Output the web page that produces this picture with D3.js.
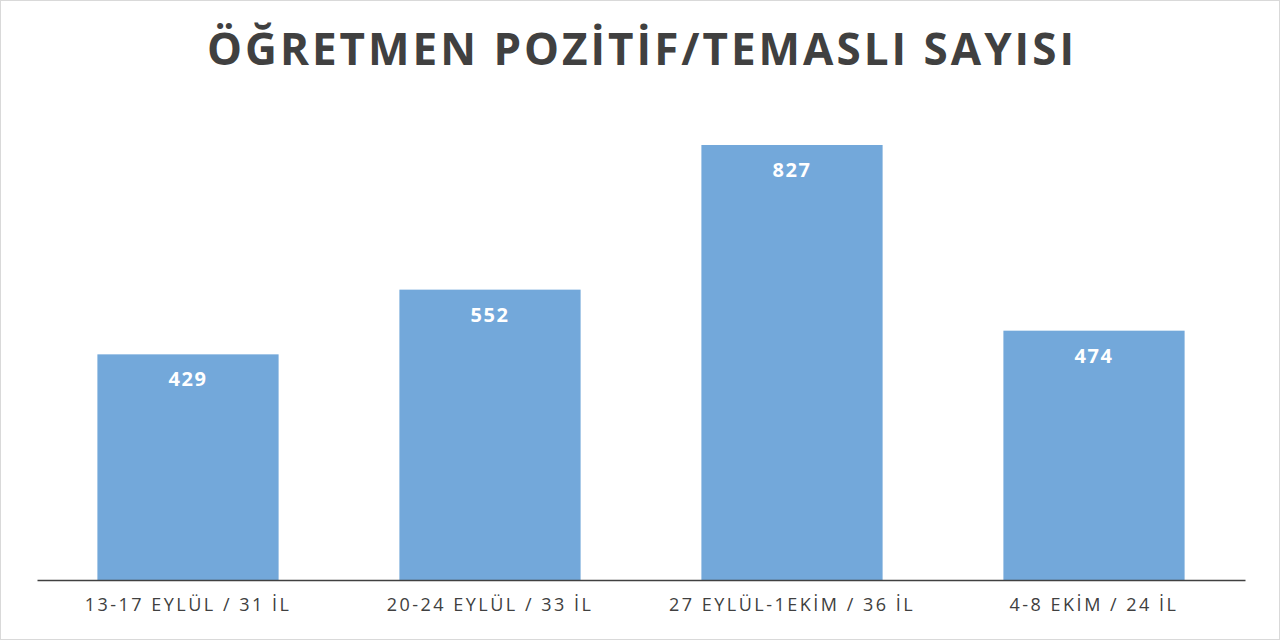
<!DOCTYPE html>
<html><head><meta charset="utf-8">
<script src="https://cdn.jsdelivr.net/npm/d3@7"></script>
<style>body{margin:0;background:#fff}</style></head>
<body><svg id="c" width="1280" height="640"></svg>
<script>
const categories = ["13-17 EYLÜL / 31 İL","20-24 EYLÜL / 33 İL","27 EYLÜL-1EKİM / 36 İL","4-8 EKİM / 24 İL"];
const values = [429, 552, 827, 474];
const title = "ÖĞRETMEN POZİTİF/TEMASLI SAYISI";

const svg = d3.select("#c");
svg.append("rect").attr("x",0.5).attr("y",0.5).attr("width",1279).attr("height",639).attr("fill","#fff").attr("stroke","#d9d9d9");
const x = d3.scaleBand().domain(categories).range([37,1245]).paddingInner(0.4).paddingOuter(0.2);
const y = d3.scaleLinear().domain([0,900]).range([580,106.6]);

svg.append("text").attr("x",642).attr("y",65).attr("text-anchor","middle")
  .attr("font-family","Open Sans, sans-serif").attr("font-weight","bold").attr("font-size",44)
  .attr("letter-spacing",3).attr("fill","#404040").text(title);

svg.selectAll("rect.bar").data(values).join("rect").attr("class","bar")
  .attr("x",(d,i)=>x(categories[i])).attr("width",x.bandwidth())
  .attr("y",d=>y(d)).attr("height",d=>y(0)-y(d)).attr("fill","#73a8da");

svg.selectAll("text.lbl").data(values).join("text").attr("class","lbl")
  .attr("x",(d,i)=>x(categories[i])+x.bandwidth()/2).attr("y",d=>y(d)+32)
  .attr("text-anchor","middle").attr("font-family","Open Sans, sans-serif")
  .attr("font-weight","bold").attr("font-size",20).attr("letter-spacing",1.5).attr("fill","#fff").text(d=>d);

const ax = svg.append("g").attr("transform","translate(0,580)").call(d3.axisBottom(x).tickSize(0).tickPadding(18));
ax.select(".domain").attr("stroke","#404040").attr("stroke-width",1.5);
ax.selectAll("text").attr("font-family","Open Sans, sans-serif").attr("font-size",18)
  .attr("letter-spacing",2.5).attr("fill","#404040");
</script></body></html>
